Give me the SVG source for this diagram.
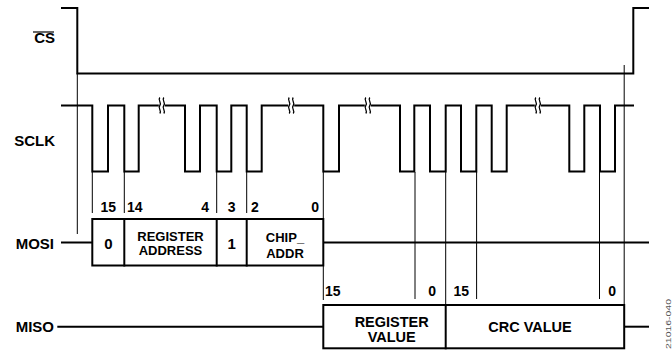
<svg xmlns="http://www.w3.org/2000/svg" xmlns:xlink="http://www.w3.org/1999/xlink" width="672" height="352" viewBox="0 0 672 352">
<style>
.thick{fill:none;stroke:#000;stroke-width:2;stroke-linejoin:miter;stroke-linecap:square}
.thin{fill:none;stroke:#000;stroke-width:1}
.box{fill:#fff;stroke:#000;stroke-width:2}
.lbl{font-family:"Liberation Sans",Arial,sans-serif;font-weight:bold;font-size:15px;fill:#000}
.num{font-family:"Liberation Sans",Arial,sans-serif;font-weight:bold;font-size:14px;fill:#000}
.bt{font-family:"Liberation Sans",Arial,sans-serif;font-weight:bold;font-size:13px;fill:#000;text-anchor:middle}
.bd{font-family:"Liberation Sans",Arial,sans-serif;font-weight:bold;font-size:15px;fill:#000;text-anchor:middle}
.bt2{font-family:"Liberation Sans",Arial,sans-serif;font-weight:bold;font-size:14.5px;fill:#000;text-anchor:middle}
.fig{font-family:"Liberation Sans",Arial,sans-serif;font-size:8px;fill:#555}
</style>
<defs>
<g id="brk">
<rect x="-3.5" y="-3" width="6" height="6" fill="#fff"/>
<path d="M-2.5,-8 c-2.5,3 2.5,5 0,8 c-2.5,3 2.5,5 0,8 M1.5,-8 c-2.5,3 2.5,5 0,8 c-2.5,3 2.5,5 0,8" fill="none" stroke="#000" stroke-width="1.3"/>
</g>
</defs>

<g id="labels">
<text class="lbl" x="55" y="43" text-anchor="end">CS</text>
<line x1="33" y1="32" x2="54" y2="32" stroke="#000" stroke-width="1.2"/>
<text class="lbl" x="55" y="146" text-anchor="end">SCLK</text>
<text class="lbl" x="54" y="249" text-anchor="end">MOSI</text>
<text class="lbl" x="54" y="332" text-anchor="end">MISO</text>
</g>

<g id="connectors">
<line class="thin" x1="77.3" y1="73" x2="77.3" y2="234"/>
<line class="thin" x1="92.3" y1="172" x2="92.3" y2="213"/>
<line class="thin" x1="124.3" y1="172" x2="124.3" y2="213"/>
<line class="thin" x1="216.7" y1="172" x2="216.7" y2="213"/>
<line class="thin" x1="246.7" y1="172" x2="246.7" y2="213"/>
<line class="thin" x1="323.3" y1="172" x2="323.3" y2="300"/>
<line class="thin" x1="415" y1="172" x2="415" y2="299"/>
<line class="thin" x1="445.7" y1="172" x2="445.7" y2="305"/>
<line class="thin" x1="476.6" y1="172" x2="476.6" y2="299"/>
<line class="thin" x1="599.5" y1="172" x2="599.5" y2="299"/>
<line class="thin" x1="624.2" y1="65" x2="624.2" y2="305"/>
</g>

<g id="cs">
<path class="thick" d="M62,8 H77.3 V73.5 H633.3 V8 H648"/>
</g>

<g id="sclk">
<path class="thick" d="M62,105.5 H92.3 V171.5 H108 V105.5 H124.3 V171.5 H138.7 V105.5 H185 V171.5 H200 V105.5 H216.7 V171.5 H231.3 V105.5 H246.7 V171.5 H261.7 V105.5 H323.3 V171.5 H339 V105.5 H400 V171.5 H414.3 V105.5 H430 V171.5 H445.7 V105.5 H461 V171.5 H476.3 V105.5 H491.7 V171.5 H506.7 V105.5 H569.3 V171.5 H584.3 V105.5 H600 V171.5 H615 V105.5 H633"/>
<use xlink:href="#brk" href="#brk" transform="translate(162.3,105.5)"/>
<use xlink:href="#brk" href="#brk" transform="translate(291.7,105.5)"/>
<use xlink:href="#brk" href="#brk" transform="translate(368.3,105.5)"/>
<use xlink:href="#brk" href="#brk" transform="translate(538.3,105.5)"/>
</g>

<g id="mosi">
<line class="thick" x1="62" y1="242.5" x2="92" y2="242.5"/>
<line class="thick" x1="324" y1="242.5" x2="648" y2="242.5"/>
<rect class="box" x="92.3" y="219" width="231" height="46.5"/>
<line class="thick" x1="124.3" y1="219" x2="124.3" y2="265.5"/>
<line class="thick" x1="216.7" y1="219" x2="216.7" y2="265.5"/>
<line class="thick" x1="246.7" y1="219" x2="246.7" y2="265.5"/>
<text class="num" x="100.5" y="212">15</text>
<text class="num" x="127" y="212">14</text>
<text class="num" x="209" y="212" text-anchor="end">4</text>
<text class="num" x="231.7" y="212" text-anchor="middle">3</text>
<text class="num" x="251" y="212">2</text>
<text class="num" x="319" y="212" text-anchor="end">0</text>
<text class="bd" x="108.3" y="249">0</text>
<text class="bt" x="170.5" y="240.5">REGISTER</text>
<text class="bt" x="170.5" y="254.5">ADDRESS</text>
<text class="bd" x="231.7" y="249">1</text>
<text class="bt" x="285" y="242">CHIP_</text>
<text class="bt" x="285" y="257.5">ADDR</text>
</g>

<g id="miso">
<line class="thick" x1="58.3" y1="326.7" x2="323" y2="326.7"/>
<line class="thick" x1="625" y1="326.7" x2="648" y2="326.7"/>
<rect class="box" x="323.3" y="305" width="300.9" height="43.3"/>
<line class="thick" x1="445.7" y1="305" x2="445.7" y2="348.3"/>
<text class="num" x="325" y="296">15</text>
<text class="num" x="436" y="296" text-anchor="end">0</text>
<text class="num" x="453.5" y="296">15</text>
<text class="num" x="616" y="296" text-anchor="end">0</text>
<text class="bt2" x="391.7" y="326.7">REGISTER</text>
<text class="bt2" x="391.7" y="341.7">VALUE</text>
<text class="bt2" x="530" y="332.3">CRC VALUE</text>
</g>

<text class="fig" transform="translate(670.5,324) rotate(-90)" text-anchor="middle" textLength="50" lengthAdjust="spacingAndGlyphs">21016-040</text>
</svg>
